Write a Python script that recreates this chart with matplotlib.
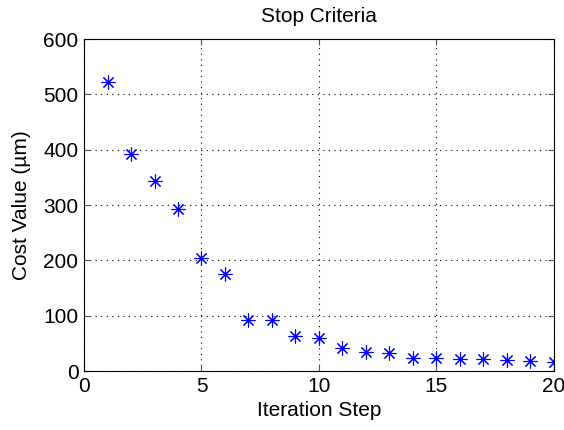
import matplotlib
matplotlib.use("Agg")
import matplotlib.pyplot as plt

steps = list(range(1, 21))
cost = [522, 393, 344, 293, 205, 176, 92, 92, 64, 59, 42, 34, 33, 23, 23, 21, 21, 20, 18, 16]
xticks = [0, 5, 10, 15, 20]
yticks = [0, 100, 200, 300, 400, 500, 600]

plt.rcParams['font.family'] = ['Liberation Sans', 'DejaVu Sans']
fig = plt.figure(figsize=(5.64, 4.30), dpi=100)
ax = fig.add_axes([0.149, 0.137, 0.833, 0.772])
ax.plot(steps, cost, linestyle='none', marker=(8, 2, 0), markersize=10,
        markeredgewidth=0.8, color='#0000ff')
ax.set_xlim(0, 20)
ax.set_ylim(0, 600)
ax.set_xticks(xticks)
ax.set_yticks(yticks)
ax.grid(True, linestyle=(0, (1, 4)), color='black', linewidth=0.8)
ax.tick_params(direction='in', length=4, labelsize=15, top=True, right=True,
               color='#555555', pad=4)
for s in ax.spines.values():
    s.set_linewidth(0.8)
ax.set_title('Stop Criteria', fontsize=15, pad=12)
ax.set_xlabel('Iteration Step', fontsize=15, labelpad=4)
ax.set_ylabel('Cost Value (µm)', fontsize=15, labelpad=9)
fig.savefig('out.png', dpi=100)
